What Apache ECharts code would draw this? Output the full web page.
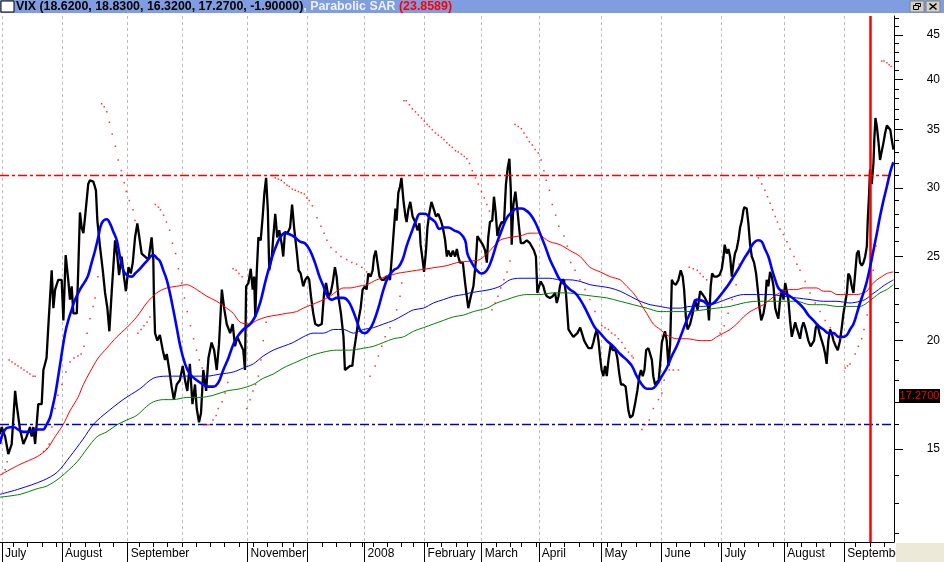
<!DOCTYPE html>
<html><head><meta charset="utf-8">
<script src="https://cdn.jsdelivr.net/npm/echarts@6/dist/echarts.min.js"></script>
<style>html,body{margin:0;padding:0;background:#fff}#c{width:944px;height:562px}</style>
</head><body><div id="c"></div>
<script>
// trading-day index (0 = 2 Jul 2007)
const monthStart = [0,21,44,63,86,107,127,148,168,188,210,231,252,274,295];
const monthLabel = ['July','August','September','','November','','2008','February','March','April','May','June','July','August','September'];
const monthTickDays = [0,21,44,86,107,127,148,168,188,210,231,252,274,295];
const weekStart = [0,4,9,14,19,24,29,34,39,44,48,53,58,63,68,73,78,83,88,93,98,102,107,112,117,122,126,130,135,140,144,149,154,159,163,168,173,178,182,187,192,197,202,207,212,217,222,227,231,236,241,246,251,255,260,265,270,275,280,285,290,295,299,304,309];
const yMajorTicks = [15,20,25,30,35,40,45];
const yMinorTicks = [12,13,14,16,17,18,19,21,22,23,24,26,27,28,29,31,32,33,34,36,37,38,39,41,42,43,44,46,47];
const upperBand = 31, lowerBand = 16, eventDay = 304, lastClose = 17.27;

const vix = [[-0.7,15.6],[-0.1,15.9],[1.1,15.5],[2.2,14.8],[3.4,15.2],[4.6,17.5],[5.1,16.9],[6.3,15.8],[7.5,15.2],[8.6,15.5],[9.8,15.9],[10.4,15.5],[11.0,15.9],[11.6,15.2],[12.7,16.9],[13.9,16.9],[14.5,18.5],[15.6,19.1],[16.2,20.7],[17.4,24.1],[18.0,21.8],[18.6,22.9],[19.7,23.5],[20.9,23.5],[21.5,21.1],[22.3,25.1],[23.2,23.5],[23.8,22.3],[24.4,23.1],[25.0,21.5],[26.2,21.5],[26.7,24.1],[27.3,28.1],[27.9,27.0],[28.5,26.6],[29.1,27.8],[30.2,30.3],[30.8,30.6],[32.0,30.5],[32.9,29.8],[33.4,27.5],[34.3,25.7],[35.3,24.1],[36.1,22.7],[36.9,21.8],[37.6,20.5],[38.4,22.7],[39.6,26.1],[40.4,25.0],[41.0,23.8],[41.9,25.0],[42.7,23.7],[43.4,22.8],[44.3,24.3],[45.1,23.9],[45.8,24.6],[46.6,26.3],[47.4,27.3],[48.1,26.3],[48.9,25.2],[50.1,25.0],[51.3,24.8],[52.4,26.3],[53.0,24.8],[53.2,22.5],[53.6,20.4],[54.4,20.0],[55.3,20.3],[56.3,19.5],[57.1,19.0],[57.7,19.3],[58.6,18.5],[59.4,17.7],[60.2,17.1],[61.2,17.8],[62.3,18.0],[63.3,18.7],[64.1,18.0],[64.9,17.5],[65.8,18.8],[66.7,16.9],[67.6,17.8],[68.2,16.7],[69.0,16.1],[69.7,16.5],[70.5,18.5],[71.5,17.5],[72.3,19.1],[73.4,19.9],[74.3,19.5],[75.2,18.5],[76.0,19.8],[77.0,22.9],[77.8,21.8],[78.7,20.9],[79.9,20.4],[80.8,20.9],[81.6,19.7],[82.4,20.2],[84.5,19.5],[85.1,18.5],[85.5,23.1],[86.3,23.3],[87.1,24.2],[87.8,22.9],[88.3,23.7],[88.7,21.3],[89.2,23.9],[89.8,26.3],[90.6,26.1],[91.3,27.8],[91.9,29.6],[92.5,30.8],[93.1,28.3],[93.6,24.1],[94.5,25.0],[95.0,26.3],[95.7,28.0],[96.4,26.3],[97.1,26.8],[98.0,25.8],[98.5,25.0],[99.1,26.7],[100.0,26.6],[100.9,27.0],[101.6,28.7],[102.3,27.0],[103.2,25.4],[103.9,24.1],[104.6,23.9],[105.5,23.1],[106.2,23.5],[107.0,23.7],[107.6,23.5],[108.2,22.5],[109.0,21.5],[109.7,20.9],[110.8,20.8],[112.0,20.9],[112.8,22.7],[113.5,23.3],[114.3,22.5],[115.1,22.7],[115.8,23.3],[116.6,24.3],[117.2,23.7],[117.8,22.5],[118.7,21.5],[119.6,20.2],[120.1,18.5],[120.7,18.5],[121.9,18.7],[122.7,18.7],[123.3,19.5],[124.0,20.2],[124.8,21.1],[125.6,21.8],[126.3,22.9],[127.1,23.1],[127.7,22.9],[128.3,23.9],[129.1,23.7],[129.8,24.1],[130.3,25.0],[130.9,25.4],[131.5,24.6],[132.2,23.7],[133.0,23.5],[133.8,23.5],[134.5,23.7],[135.3,23.7],[135.9,23.5],[136.7,25.4],[137.4,27.3],[137.8,28.4],[138.2,27.5],[138.8,29.6],[139.4,30.1],[139.9,30.8],[140.6,29.0],[141.3,27.8],[141.7,27.4],[142.3,28.3],[143.0,28.9],[143.8,27.8],[144.7,27.4],[145.5,26.8],[146.2,27.3],[146.6,25.8],[147.3,24.8],[147.8,24.0],[148.5,25.4],[149.0,27.0],[149.7,28.1],[150.4,28.9],[151.3,28.3],[152.0,27.8],[152.8,28.0],[153.7,27.5],[154.4,27.0],[155.2,26.1],[155.8,25.0],[156.3,25.4],[157.2,25.0],[157.9,25.4],[158.7,25.0],[159.3,25.5],[159.8,25.0],[160.4,24.6],[161.4,24.6],[162.2,23.3],[163.3,21.8],[164.2,22.5],[165.1,23.1],[166.0,24.8],[166.5,26.4],[167.4,26.1],[168.4,25.8],[169.2,25.4],[169.8,24.6],[170.3,26.3],[170.9,27.4],[171.7,27.5],[172.3,29.3],[172.9,28.1],[173.5,26.4],[174.2,27.0],[175.0,27.4],[175.8,27.3],[176.5,30.3],[177.1,31.6],[177.7,32.4],[178.2,29.8],[178.5,25.8],[179.1,28.7],[179.8,29.7],[180.5,28.3],[181.2,26.8],[181.7,25.9],[182.6,25.9],[183.8,26.1],[184.9,25.9],[186.3,25.4],[187.0,25.0],[187.5,22.7],[188.1,23.1],[188.7,23.4],[189.6,23.1],[190.2,22.7],[190.8,22.5],[191.9,22.4],[192.9,22.5],[193.7,22.7],[194.3,22.1],[194.9,22.5],[195.4,23.1],[196.0,23.5],[196.8,23.5],[197.5,22.7],[198.4,20.6],[199.2,20.4],[200.1,20.2],[200.7,20.1],[201.5,20.4],[202.5,20.7],[203.0,20.6],[203.9,20.0],[204.6,19.8],[205.4,19.6],[206.5,19.6],[207.1,19.9],[207.7,20.3],[208.3,20.6],[208.9,20.0],[209.5,19.1],[210.0,18.5],[210.6,18.2],[211.2,18.7],[211.8,18.2],[212.4,19.0],[213.2,19.8],[213.9,19.5],[214.9,19.5],[215.5,19.1],[216.2,18.3],[216.8,17.8],[217.6,17.8],[218.4,17.7],[219.4,16.6],[220.0,16.3],[220.9,16.4],[221.7,16.9],[222.5,17.5],[223.2,18.2],[223.8,18.5],[224.4,18.2],[225.0,18.5],[225.6,19.5],[226.4,19.6],[227.0,19.5],[227.6,19.0],[228.1,18.2],[228.7,17.8],[229.3,17.9],[230.0,18.0],[230.5,18.8],[231.1,19.9],[231.6,20.2],[232.2,20.5],[232.8,20.0],[233.4,18.7],[234.0,19.8],[234.6,23.5],[235.1,23.3],[236.0,23.2],[236.9,23.5],[237.7,24.1],[238.4,23.7],[238.9,22.9],[239.5,21.3],[240.1,20.6],[241.0,20.9],[241.9,21.5],[242.7,22.3],[243.6,21.7],[244.5,22.8],[245.4,22.6],[246.2,22.4],[247.1,22.1],[247.6,21.1],[248.2,23.1],[248.7,23.9],[249.4,23.7],[250.3,23.7],[251.3,23.8],[252.1,24.2],[252.7,25.0],[253.1,25.8],[253.8,25.2],[254.4,25.5],[255.0,25.0],[255.6,23.7],[256.2,24.6],[256.7,25.2],[257.3,25.5],[257.9,26.1],[258.5,27.0],[259.1,27.5],[259.7,28.3],[260.0,28.5],[260.8,28.4],[261.4,27.3],[262.0,25.8],[262.6,25.0],[263.4,24.6],[264.1,23.9],[264.7,22.9],[265.3,21.8],[265.9,21.1],[266.7,21.5],[267.3,22.1],[267.8,23.5],[268.4,23.1],[269.0,24.0],[269.6,23.7],[270.2,23.1],[270.8,21.8],[271.3,21.5],[271.9,21.2],[272.5,22.3],[273.1,22.9],[273.7,22.3],[274.3,23.3],[274.8,23.4],[275.4,22.3],[276.0,21.1],[276.6,20.2],[277.2,20.6],[277.8,21.0],[278.3,20.7],[278.9,20.4],[279.5,20.1],[280.1,20.7],[280.7,21.0],[281.3,20.7],[281.8,20.4],[282.4,20.0],[283.2,19.7],[283.8,19.6],[284.4,20.0],[285.0,20.7],[285.6,20.9],[286.3,20.4],[287.1,20.0],[287.7,19.7],[288.3,19.3],[288.8,18.8],[289.4,20.0],[290.0,20.6],[290.6,20.4],[291.2,20.0],[292.0,19.7],[292.7,19.5],[293.5,20.0],[294.1,20.7],[294.7,21.5],[295.3,22.1],[295.9,22.7],[296.4,23.9],[297.0,23.7],[297.6,23.1],[298.2,22.7],[298.8,23.9],[299.4,25.2],[300.0,25.4],[300.5,24.6],[301.1,24.4],[301.7,24.6],[302.3,25.0],[302.9,25.7],[303.2,27.5],[303.7,29.6],[304.0,31.5],[304.6,30.3],[305.2,32.0],[305.5,34.1],[305.9,36.1],[306.4,35.3],[307.0,33.8],[307.5,32.3],[308.1,32.2],[308.7,33.8],[309.3,34.7],[309.9,35.4],[310.5,35.3],[311.1,35.0],[311.6,34.1],[312.2,33.2]];

const maFast = [[-0.7,15.2],[1.1,15.8],[3.9,15.9],[7.4,15.7],[9.8,15.7],[12.3,15.8],[14.4,15.8],[15.6,16.0],[16.8,16.3],[17.4,16.6],[18.6,17.3],[19.7,18.2],[20.9,19.3],[22.1,20.4],[23.2,21.1],[24.4,21.7],[25.6,22.3],[27.3,22.9],[29.1,23.4],[30.2,23.8],[31.4,24.6],[32.6,25.4],[33.7,26.3],[34.9,27.3],[36.7,27.6],[37.8,27.3],[39.0,26.7],[40.2,26.1],[41.3,25.0],[42.5,24.1],[43.7,23.8],[45.4,23.7],[46.6,23.9],[48.3,24.2],[50.7,24.7],[53.0,25.1],[54.2,24.9],[55.3,24.7],[56.5,24.1],[57.7,23.5],[58.8,22.7],[60.0,21.7],[61.2,20.7],[62.3,19.8],[64.1,18.8],[65.8,18.3],[68.2,18.0],[70.5,17.8],[72.3,17.7],[74.0,17.7],[75.8,17.9],[77.5,18.5],[79.3,19.1],[81.0,19.8],[82.4,20.2],[84.5,20.6],[86.9,20.9],[88.6,21.3],[90.4,22.1],[92.1,23.3],[93.6,24.3],[95.0,25.2],[96.2,25.8],[97.4,26.3],[99.1,26.6],[100.9,26.5],[102.6,26.3],[104.4,26.0],[106.1,25.9],[107.9,25.4],[109.6,24.6],[111.2,23.7],[112.6,23.1],[114.0,22.5],[115.5,22.3],[117.2,22.4],[119.6,22.4],[121.3,22.2],[122.8,21.7],[124.2,21.1],[125.6,20.5],[127.1,20.4],[128.7,20.6],[130.1,21.0],[131.8,21.8],[133.6,22.9],[135.3,23.7],[137.1,24.1],[138.8,24.3],[140.3,24.8],[141.7,25.7],[143.5,26.7],[145.0,27.5],[146.4,28.0],[148.2,28.0],[149.9,27.7],[151.7,27.4],[153.2,26.9],[154.6,27.0],[156.3,27.0],[158.3,26.8],[160.4,26.6],[162.2,26.1],[163.0,25.2],[164.5,24.6],[166.3,24.1],[168.0,23.9],[169.8,24.1],[171.5,24.8],[173.3,25.9],[175.0,26.8],[176.8,27.7],[178.5,28.1],[180.3,28.4],[182.0,28.4],[183.2,28.3],[184.9,28.0],[186.7,27.4],[188.4,26.6],[190.2,25.7],[191.9,24.8],[193.7,24.1],[195.4,23.5],[197.2,23.2],[198.9,22.9],[200.7,22.7],[202.5,22.3],[204.2,21.8],[206.0,21.2],[207.7,20.7],[209.5,20.4],[211.8,20.0],[214.1,19.7],[216.5,19.3],[218.8,19.0],[220.6,18.7],[222.3,18.2],[224.1,17.8],[225.8,17.6],[227.6,17.6],[229.3,17.8],[231.1,18.2],[232.8,18.6],[234.6,19.2],[236.3,19.7],[238.1,20.4],[239.8,21.1],[241.6,21.7],[243.3,22.3],[245.7,22.2],[247.4,22.0],[249.2,22.1],[250.9,22.4],[252.7,22.8],[254.4,23.2],[256.2,23.7],[257.9,24.2],[259.7,24.8],[261.4,25.3],[263.2,25.9],[264.9,26.1],[266.1,26.0],[267.2,25.5],[268.4,25.0],[269.6,24.2],[270.8,23.5],[271.9,23.0],[273.7,22.7],[276.0,22.5],[278.3,22.2],[280.7,21.8],[282.4,21.4],[284.2,21.1],[285.9,20.8],[287.7,20.6],[289.4,20.4],[291.2,20.4],[293.0,20.2],[294.7,20.2],[295.9,20.3],[297.0,20.6],[298.2,20.9],[299.4,21.5],[300.5,22.1],[301.7,22.7],[302.9,23.4],[304.0,24.3],[305.2,25.4],[306.4,26.6],[307.5,27.8],[308.7,29.0],[309.9,30.1],[311.1,31.3],[312.2,32.1]];

const maRed = [[-0.7,14.0],[6.3,14.4],[12.3,14.7],[15.8,15.0],[18.6,15.5],[21.4,16.0],[23.8,16.6],[26.6,17.2],[28.5,17.8],[30.8,18.4],[33.7,19.1],[36.7,19.6],[40.2,20.2],[43.7,20.7],[47.2,21.3],[50.7,22.1],[54.2,22.7],[57.7,23.0],[61.2,23.1],[64.7,23.2],[68.2,22.9],[71.7,22.5],[75.2,22.2],[78.7,21.8],[81.0,21.5],[83.4,21.0],[86.9,20.9],[89.2,21.1],[92.7,21.3],[96.2,21.4],[99.7,21.5],[103.2,21.6],[105.5,21.8],[108.5,22.0],[111.4,22.2],[114.9,22.5],[117.2,22.8],[119.6,23.0],[121.9,23.0],[124.8,23.1],[127.7,23.2],[131.2,23.5],[134.7,23.7],[138.2,23.9],[141.7,24.0],[145.2,24.1],[148.8,24.2],[152.3,24.3],[155.8,24.4],[159.3,24.6],[163.9,24.7],[167.4,24.8],[170.9,25.4],[174.4,26.1],[177.9,26.3],[181.4,26.4],[184.9,26.6],[187.9,26.6],[189.6,26.3],[191.9,26.0],[195.4,25.8],[198.9,25.4],[202.5,25.0],[205.9,24.3],[209.5,24.0],[213.0,23.7],[216.5,23.5],[218.8,23.1],[221.1,22.7],[223.5,22.1],[225.8,21.5],[228.1,20.9],[230.5,20.6],[232.8,20.3],[236.3,20.1],[239.8,20.1],[244.5,20.0],[248.0,20.0],[250.3,20.2],[252.7,20.4],[255.0,20.6],[257.3,20.9],[259.7,21.3],[262.0,21.6],[264.3,21.8],[266.7,22.0],[269.0,22.3],[271.3,22.6],[273.7,22.8],[276.0,22.9],[278.3,22.9],[280.7,23.0],[283.0,23.0],[285.3,23.0],[287.7,22.8],[290.0,22.8],[292.4,22.6],[294.7,22.6],[297.0,22.6],[299.4,22.6],[301.7,22.7],[302.9,22.8],[304.6,23.2],[306.4,23.5],[308.1,23.7],[309.9,23.9],[312.2,24.0]];

const maBlue = [[-0.7,13.3],[6.3,13.5],[14.4,13.8],[19.3,14.1],[23.8,14.7],[28.4,15.4],[31.9,16.0],[35.4,16.4],[42.4,17.1],[48.3,17.6],[53.0,18.1],[57.7,18.2],[62.3,18.2],[67.0,18.2],[71.7,18.2],[76.4,18.3],[81.0,18.4],[84.5,18.6],[88.0,18.8],[91.5,19.2],[95.0,19.5],[98.5,19.7],[102.0,19.9],[105.5,20.2],[109.0,20.4],[112.6,20.4],[116.1,20.6],[119.6,20.6],[123.1,20.4],[126.6,20.6],[130.1,20.7],[133.6,20.9],[137.1,21.1],[140.6,21.4],[144.1,21.7],[147.6,21.8],[151.1,22.1],[154.6,22.3],[158.1,22.5],[161.6,22.6],[163.9,22.7],[167.4,22.8],[170.9,22.9],[174.4,23.1],[177.9,23.5],[181.4,23.6],[184.9,23.6],[188.4,23.6],[191.9,23.6],[195.4,23.5],[198.9,23.5],[202.5,23.4],[205.9,23.2],[209.5,23.1],[213.0,23.0],[216.5,22.8],[220.0,22.5],[223.5,22.2],[227.0,22.0],[230.5,21.9],[234.0,21.8],[237.5,21.8],[241.0,21.9],[245.7,21.9],[250.3,22.1],[255.0,22.4],[259.7,22.6],[264.3,22.6],[269.0,22.6],[273.7,22.5],[278.3,22.4],[283.0,22.3],[287.7,22.2],[292.4,22.2],[297.0,22.1],[300.5,22.2],[302.3,22.3],[304.6,22.6],[307.0,22.9],[309.3,23.2],[312.2,23.5]];

const maGreen = [[-0.7,13.2],[6.3,13.3],[12.3,13.5],[15.8,13.6],[20.3,13.9],[26.3,14.5],[29.7,15.0],[33.3,15.5],[36.7,15.7],[40.3,16.0],[43.7,16.2],[47.2,16.4],[50.7,16.8],[53.0,17.0],[56.5,17.1],[60.0,17.1],[64.7,17.2],[69.4,17.2],[74.0,17.3],[78.7,17.5],[83.4,17.6],[88.0,17.8],[91.5,18.1],[95.0,18.3],[98.5,18.6],[103.2,18.9],[107.9,19.2],[112.6,19.4],[117.2,19.5],[121.9,19.5],[126.6,19.6],[130.1,19.7],[133.6,19.9],[137.1,20.1],[140.6,20.2],[144.1,20.5],[147.6,20.7],[151.1,20.9],[154.6,21.1],[158.1,21.3],[161.6,21.4],[165.1,21.6],[169.8,21.8],[173.3,22.1],[176.8,22.3],[180.3,22.5],[183.8,22.6],[188.4,22.6],[193.1,22.7],[197.8,22.7],[202.5,22.6],[207.1,22.5],[211.8,22.4],[216.5,22.2],[221.1,22.0],[225.8,21.8],[230.5,21.6],[235.1,21.6],[239.8,21.6],[245.7,21.7],[250.3,21.8],[255.0,21.9],[259.7,22.1],[264.3,22.2],[269.0,22.2],[273.7,22.2],[278.3,22.2],[283.0,22.0],[287.7,22.0],[292.4,21.9],[297.0,21.9],[300.5,21.9],[302.9,22.1],[305.2,22.4],[307.5,22.7],[309.9,22.9],[312.2,23.2]];

const sar = [[1.1,14.2],[1.8,14.5],
[2.5,19.0],[3.5,18.9],[4.6,18.8],[5.6,18.7],[6.7,18.6],[7.7,18.5],[8.8,18.4],[9.8,18.3],[10.9,18.2],[11.6,18.2],
[14.6,14.9],[15.6,15.0],[16.5,15.2],[17.5,15.9],[18.6,16.7],[19.6,17.3],[21.0,17.8],[22.4,18.4],[23.8,18.9],[25.2,19.1],[26.6,19.2],[27.7,19.3],[28.7,19.7],[29.8,20.4],[30.8,21.2],[31.9,21.9],[32.6,22.4],[33.6,23.7],
[34.9,37.5],[35.8,37.2],[36.7,36.7],[37.6,35.7],[38.6,34.6],[39.7,33.5],[40.7,32.3],[41.8,31.4],[42.8,30.4],[43.5,29.7],[44.6,29.0],[45.9,28.3],[46.6,27.5],
[47.6,20.4],[48.7,20.6],[49.7,20.8],[50.8,21.0],[51.8,21.3],
[53.7,28.7],[54.8,28.5],[55.5,28.3],[56.6,27.9],[57.6,27.4],[58.7,26.8],[59.7,25.9],[60.8,25.2],[61.8,24.2],[62.9,23.3],[63.9,22.4],[64.9,21.6],[66.0,20.8],[67.1,20.1],[68.1,19.5],[69.1,19.0],[70.1,18.6],
[70.8,16.0],[71.8,16.0],[72.5,16.0],[73.9,16.2],[75.0,16.4],[75.7,16.7],[77.1,17.0],[78.1,17.4],[79.1,17.9],
[80.9,24.2],[82.0,24.1],[83.0,23.9],[84.1,23.7],
[85.7,16.7],[86.9,17.1],[87.9,17.5],[88.8,17.8],[89.8,18.2],[90.7,19.0],[91.5,20.0],[92.5,21.0],
[94.7,31.0],[95.7,30.8],[96.8,30.7],[97.8,30.6],[98.9,30.4],[99.8,30.2],[100.6,30.1],[101.7,29.9],[102.7,29.8],[103.8,29.7],[104.8,29.6],[105.9,29.5],[106.7,29.2],[107.6,29.0],[108.7,28.6],[110.3,27.7],[111.7,27.1],[112.8,26.6],[113.8,26.1],[115.2,25.6],[117.0,25.3],[118.7,25.0],[120.7,24.8],[122.5,24.6],[124.2,24.5],[126.0,24.3],[127.7,24.0],
[128.9,18.2],[130.7,18.7],[131.8,19.2],[133.0,19.7],[134.2,20.2],[135.9,20.7],[138.2,21.7],[139.4,22.5],[140.0,23.3],
[140.8,37.8],[141.6,37.8],[142.7,37.4],[143.7,37.0],[144.8,36.7],[145.8,36.4],[146.9,36.1],[147.9,35.8],[148.9,35.5],[149.7,35.3],[150.7,35.0],[151.8,34.7],[152.8,34.5],[153.9,34.3],[154.8,34.1],[155.8,33.8],[156.7,33.6],[157.7,33.4],[158.8,33.1],[159.8,33.0],[160.9,32.8],[161.9,32.6],[162.8,32.4],[163.7,32.0],[164.7,31.4],[165.8,30.8],[166.8,30.3],[167.9,29.7],[168.9,29.2],[169.8,28.7],[170.7,28.2],
[171.6,21.7],[172.7,22.1],[173.7,22.5],[174.7,23.0],[175.8,23.5],[176.9,24.0],[177.9,24.7],
[179.7,35.5],[180.8,35.3],[181.9,35.1],[182.8,34.7],[183.8,34.3],[184.7,33.9],[185.7,33.6],[186.7,33.2],[187.8,32.9],[188.8,32.3],[189.8,31.4],[190.6,30.6],[191.7,29.8],[192.7,28.7],[193.9,27.9],[195.0,27.1],[196.8,26.4],[198.0,25.7],[199.2,24.6],[200.7,24.1],[202.4,23.5],[204.2,22.9],[205.9,22.3],[207.7,21.6],[210.1,20.8],[211.2,20.7],[212.4,20.6],[213.5,20.4],[214.7,20.3],[215.9,20.1],[217.1,19.9],[218.2,19.6],[219.4,19.4],[220.6,19.2],[221.1,19.1],
[224.1,15.8],[225.2,16.0],[226.7,16.2],[228.1,16.7],[229.9,17.1],[231.1,17.4],[231.9,18.0],[233.7,18.5],[235.1,18.5],[236.9,18.5],
[240.7,24.3],[242.1,24.2],[243.5,24.1],[244.5,23.9],[245.6,23.7],[246.8,23.5],
[251.5,20.4],[252.9,20.8],[254.3,21.5],[255.7,22.3],[257.1,23.2],[258.2,24.5],
[264.3,31.0],[264.9,30.8],[266.1,30.3],[267.2,29.8],[268.1,29.3],[269.0,28.8],[269.9,28.3],[270.8,27.8],[271.6,27.4],[272.5,26.9],[273.7,26.5],[274.9,26.0],[276.0,25.5],[277.4,25.0],[278.4,24.5],[279.5,24.1],[281.3,23.4],[283.0,22.7],[284.8,22.1],[286.5,21.6],[288.3,21.1],[290.1,20.7],[291.8,20.3],[293.6,20.1],
[295.3,18.6],[296.1,18.7],[297.0,18.8],[298.8,19.3],[299.9,19.7],[301.1,20.1],[301.9,20.6],[303.0,21.4],[304.0,22.6],[305.1,24.1],[306.1,25.7],[306.8,26.9],
[308.1,42.0],[308.9,42.0],[309.9,41.8],[310.7,41.6],[311.4,41.4]];

const FONT = "'Liberation Sans', Arial, sans-serif";
const X_MIN = -0.7, X_MAX = 312.4, Y_MIN = 11.72, Y_MAX = 47.33;
const labeledDays = monthStart.filter((d, i) => monthLabel[i] !== '');
const labelFor = v => { const i = monthStart.indexOf(Math.round(v)); return i >= 0 ? monthLabel[i] : ''; };

const chart = echarts.init(document.getElementById('c'));
const baseX = { type: 'value', min: X_MIN, max: X_MAX, position: 'bottom', gridIndex: 0 };
const baseY = { type: 'log', min: Y_MIN, max: Y_MAX, position: 'right', gridIndex: 0 };
function bandSeries(name, value, color) {
  return { name: name, type: 'line', data: [], z: 1, silent: true, color: color,
    lineStyle: { color: color },
    markLine: { silent: true, symbol: ['none', 'none'], label: { show: false }, animation: false,
      lineStyle: { color: color, width: 1.3, type: [9, 3, 3, 3], opacity: 1 },
      data: [{ yAxis: value }] } };
}
chart.setOption({
  animation: false,
  backgroundColor: '#ffffff',
  grid: { left: 0, right: 50, top: 16, bottom: 20, containLabel: false },
  xAxis: [
    Object.assign({}, baseX, {
      axisLine: { show: true, onZero: false, lineStyle: { color: '#000', width: 1 } },
      axisTick: { show: true, customValues: monthTickDays, length: 20, lineStyle: { color: '#000' } },
      axisLabel: { show: true, customValues: labeledDays, formatter: labelFor, align: 'left', margin: 6,
        padding: [0, 0, 0, 3], color: '#000', fontSize: 12, fontFamily: FONT },
      splitLine: { show: false }
    }),
    Object.assign({}, baseX, {
      axisLine: { show: false, onZero: false },
      axisTick: { show: true, customValues: weekStart, length: 5, lineStyle: { color: '#000' } },
      axisLabel: { show: false }, splitLine: { show: false }
    }),
    Object.assign({}, baseX, {
      axisLine: { show: false, onZero: false },
      axisTick: { show: false, customValues: monthStart },
      axisLabel: { show: false },
      splitLine: { show: true, lineStyle: { color: '#bdbdbd', width: 1, type: [3, 3] } }
    })
  ],
  yAxis: [
    Object.assign({}, baseY, {
      axisLine: { show: true, onZero: false, lineStyle: { color: '#000', width: 1 } },
      axisTick: { show: true, customValues: yMajorTicks, length: 9, lineStyle: { color: '#000' } },
      axisLabel: { show: true, customValues: yMajorTicks, formatter: v => String(Math.round(v)),
        margin: 46, align: 'right', color: '#000', fontSize: 12, fontFamily: FONT },
      splitLine: { show: false }
    }),
    Object.assign({}, baseY, {
      axisLine: { show: false, onZero: false },
      axisTick: { show: true, customValues: yMinorTicks, length: 5, lineStyle: { color: '#000' } },
      axisLabel: { show: false }, splitLine: { show: false }
    })
  ],
  series: [
    bandSeries('upper band', upperBand, '#ff0000'),
    bandSeries('lower band', lowerBand, '#0000cc'),
    { name: 'VIX', type: 'line', data: vix, symbol: 'none', z: 3, silent: true,
      lineStyle: { color: '#000000', width: 2.3 } },
    { name: 'MA red', type: 'line', data: maRed, symbol: 'none', smooth: 0.3, z: 4, silent: true,
      lineStyle: { color: '#ff0000', width: 1 } },
    { name: 'MA blue', type: 'line', data: maBlue, symbol: 'none', smooth: 0.3, z: 4, silent: true,
      lineStyle: { color: '#0000ff', width: 1 } },
    { name: 'MA green', type: 'line', data: maGreen, symbol: 'none', smooth: 0.3, z: 4, silent: true,
      lineStyle: { color: '#008000', width: 1 } },
    { name: 'MA fast', type: 'line', data: maFast, symbol: 'none', smooth: 0.4, z: 5, silent: true,
      lineStyle: { color: '#0000ff', width: 2.6 } },
    { name: 'Parabolic SAR', type: 'scatter', data: sar, symbol: 'rect', symbolSize: 1.5, z: 6, silent: true,
      itemStyle: { color: '#ff0000' },
      markLine: { silent: true, symbol: ['none', 'none'], label: { show: false }, animation: false,
        lineStyle: { color: '#ff0000', width: 2.5, type: 'solid' },
        data: [{ xAxis: eventDay }] } }
  ]
});

const yLast = chart.convertToPixel({ yAxisIndex: 0 }, lastClose);
chart.setOption({
  graphic: [
    { type: 'rect', z: 100, shape: { x: 0, y: 0, width: 944, height: 13 }, style: { fill: '#7f9ddf' } },
    { type: 'rect', z: 101, shape: { x: 1, y: 1, width: 13, height: 11 }, style: { fill: '#ffffff', stroke: '#000', lineWidth: 1 } },
    { type: 'text', z: 101, x: 16, y: 7,
      style: { text: '{a|VIX (18.6200, 18.8300, 16.3200, 17.2700, -1.90000)}{b|, Parabolic SAR }{c|(23.8589)}',
        verticalAlign: 'middle',
        rich: {
          a: { fill: '#000000', font: 'bold 12.4px ' + FONT },
          b: { fill: '#eef2ff', font: 'bold 12.4px ' + FONT },
          c: { fill: '#ff0000', font: 'bold 12.4px ' + FONT }
        } } },
    { type: 'rect', z: 101, shape: { x: 910, y: 1, width: 14, height: 11 }, style: { fill: '#d4d0c8', stroke: '#808080', lineWidth: 1 } },
    { type: 'rect', z: 102, shape: { x: 915.5, y: 3.5, width: 5, height: 3 }, style: { fill: 'none', stroke: '#000', lineWidth: 1 } },
    { type: 'rect', z: 103, shape: { x: 913.5, y: 5.5, width: 5, height: 4 }, style: { fill: '#d4d0c8', stroke: '#000', lineWidth: 1 } },
    { type: 'rect', z: 101, shape: { x: 926, y: 1, width: 14, height: 11 }, style: { fill: '#d4d0c8', stroke: '#808080', lineWidth: 1 } },
    { type: 'line', z: 102, shape: { x1: 929.5, y1: 3.5, x2: 936.5, y2: 9.5 }, style: { stroke: '#000', lineWidth: 1.6 } },
    { type: 'line', z: 102, shape: { x1: 936.5, y1: 3.5, x2: 929.5, y2: 9.5 }, style: { stroke: '#000', lineWidth: 1.6 } },
    { type: 'rect', z: 100, shape: { x: 896, y: 543, width: 48, height: 19 }, style: { fill: '#ece9d8' } },
    { type: 'rect', z: 100, shape: { x: 899, y: yLast - 7, width: 41, height: 14 }, style: { fill: '#000000' } },
    { type: 'text', z: 101, x: 919.5, y: yLast,
      style: { text: lastClose.toFixed(4), fill: '#ff0000', font: '11px ' + FONT, align: 'center', verticalAlign: 'middle' } }
  ]
});
</script>
</body></html>
